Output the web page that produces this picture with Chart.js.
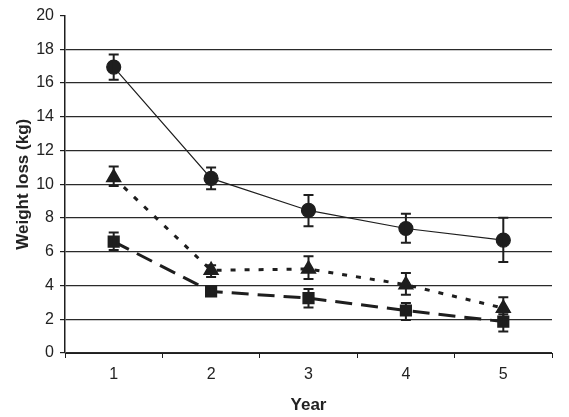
<!DOCTYPE html>
<html>
<head>
<meta charset="utf-8">
<script src="https://cdn.jsdelivr.net/npm/chart.js@4.4.1/dist/chart.umd.min.js"></script>
<style>
  html, body { margin: 0; padding: 0; background: #fff; }
  canvas { display: block; }
</style>
</head>
<body>
<canvas id="myChart" width="569" height="417"></canvas>
<script>
// data
var years = ["1", "2", "3", "4", "5"];

var circleMean = [16.95, 10.35, 8.45, 7.38, 6.69];
var circleLow  = [16.2, 9.7, 7.52, 6.53, 5.4];
var circleHigh = [17.7, 11.0, 9.36, 8.25, 8.02];

var triangleMean = [10.4, 4.9, 4.98, 4.05, 2.66];
var triangleLow  = [9.9, 4.5, 4.39, 3.45, 2.0];
var triangleHigh = [11.05, 5.2, 5.73, 4.74, 3.31];

var squareMean = [6.6, 3.65, 3.25, 2.52, 1.86];
var squareLow  = [6.1, 3.4, 2.7, 1.96, 1.27];
var squareHigh = [7.15, 3.9, 3.8, 2.97, 2.3];

var yTicks = [0, 2, 4, 6, 8, 10, 12, 14, 16, 18, 20];

var ink = '#1e1e1e';

// draws the vertical error bars with caps
var errorBars = {
    id: 'errorBars',
    afterDatasetsDraw: function(chart) {
        var ctx = chart.ctx;
        var yScale = chart.scales.y;
        chart.data.datasets.forEach(function(ds, di) {
            var meta = chart.getDatasetMeta(di);
            ctx.save();
            ctx.strokeStyle = ink;
            ctx.lineWidth = 2;
            meta.data.forEach(function(pt, i) {
                var yl = yScale.getPixelForValue(ds.errLow[i]);
                var yh = yScale.getPixelForValue(ds.errHigh[i]);
                var x = pt.x;
                ctx.beginPath();
                ctx.moveTo(x, yl); ctx.lineTo(x, yh);
                ctx.moveTo(x - 5, yl); ctx.lineTo(x + 5, yl);
                ctx.moveTo(x - 5, yh); ctx.lineTo(x + 5, yh);
                ctx.stroke();
            });
            ctx.restore();
        });
    }
};

var chartCtx = document.getElementById("myChart").getContext('2d');
var myChart = new Chart(chartCtx, {
    type: 'line',
    data: {
        labels: years,
        datasets: [{
            label: 'circles',
            data: circleMean,
            errLow: circleLow,
            errHigh: circleHigh,
            borderColor: ink,
            backgroundColor: ink,
            borderWidth: 1.2,
            pointStyle: 'circle',
            pointRadius: 7,
            tension: 0
        }, {
            label: 'triangles',
            data: triangleMean,
            errLow: triangleLow,
            errHigh: triangleHigh,
            borderColor: ink,
            backgroundColor: ink,
            borderWidth: 3,
            borderDash: [5, 9],
            pointStyle: 'triangle',
            pointRadius: 6.5,
            tension: 0
        }, {
            label: 'squares',
            data: squareMean,
            errLow: squareLow,
            errHigh: squareHigh,
            borderColor: ink,
            backgroundColor: ink,
            borderWidth: 3,
            borderDash: [17, 9],
            pointStyle: 'rect',
            pointRadius: 6.5,
            tension: 0
        }]
    },
    options: {
        responsive: false,
        animation: false,
        devicePixelRatio: 1,
        layout: { padding: { top: 15, right: 17, left: 0, bottom: 1 } },
        plugins: {
            legend: { display: false },
            tooltip: { enabled: false }
        },
        scales: {
            x: {
                offset: true,
                grid: {
                    offset: true,
                    drawOnChartArea: false,
                    color: ink,
                    tickLength: 5
                },
                border: { color: ink, width: 1 },
                ticks: {
                    color: '#222',
                    font: { family: 'Liberation Sans', size: 16 },
                    padding: 7
                },
                title: {
                    display: true,
                    text: 'Year',
                    color: '#222',
                    font: { family: 'Liberation Sans', size: 17, weight: 'bold' },
                    padding: { top: 5, bottom: 0 }
                },
                afterFit: function(scale) { scale.height = 63; }
            },
            y: {
                min: 0,
                max: 20,
                afterBuildTicks: function(scale) {
                    scale.ticks = yTicks.map(function(v) { return { value: v }; });
                },
                grid: {
                    color: function(c) {
                        return (c.tick && c.tick.value === 20) ? 'rgba(0,0,0,0)' : '#2a2a2a';
                    },
                    tickColor: ink,
                    lineWidth: 1.2,
                    tickLength: 5
                },
                border: { color: ink, width: 1.5 },
                ticks: {
                    color: '#222',
                    font: { family: 'Liberation Sans', size: 16 },
                    padding: 6
                },
                title: {
                    display: true,
                    text: 'Weight loss (kg)',
                    color: '#222',
                    font: { family: 'Liberation Sans', size: 17, weight: 'bold' },
                    padding: { top: 13, bottom: 0 }
                },
                afterFit: function(scale) { scale.width = 65; }
            }
        }
    },
    plugins: [errorBars]
});
</script>
</body>
</html>
